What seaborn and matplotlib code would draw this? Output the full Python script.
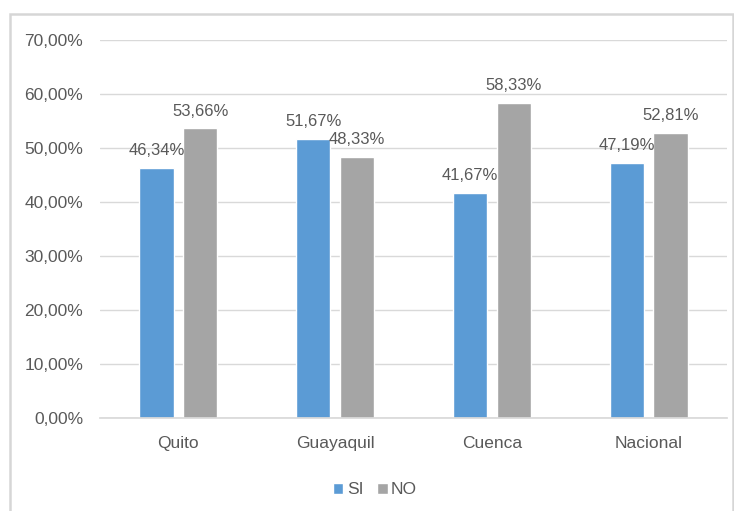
import matplotlib
matplotlib.use("Agg")
import matplotlib.pyplot as plt
from matplotlib.patches import Rectangle
import seaborn as sns
import pandas as pd

ciudades = ["Quito", "Guayaquil", "Cuenca", "Nacional"]
si_vals = [46.34, 51.67, 41.67, 47.19]
no_vals = [53.66, 48.33, 58.33, 52.81]
series = ["SI", "NO"]
colores = ["#5B9BD5", "#A5A5A5"]
y_ticks = [0, 10, 20, 30, 40, 50, 60, 70]

df = pd.DataFrame({
    "ciudad": ciudades * 2,
    "serie": ["SI"] * len(ciudades) + ["NO"] * len(ciudades),
    "valor": si_vals + no_vals,
})

sns.set_theme(style="white")
plt.rcParams["font.family"] = ["Liberation Sans", "DejaVu Sans"]
texto = "#595959"

fig = plt.figure(figsize=(7.34, 5.11), dpi=100)
ax = fig.add_axes([100 / 734, (511 - 418) / 511, 627 / 734, 378 / 511])

sns.barplot(data=df, x="ciudad", y="valor", hue="serie", hue_order=series,
            palette=colores, width=0.56, gap=0.22, ax=ax, legend=True,
            saturation=1, errorbar=None)

# data labels
for cont in ax.containers:
    labels = [f"{v:.2f}%".replace(".", ",") for v in cont.datavalues]
    ax.bar_label(cont, labels=labels, padding=7, color=texto, fontsize=12)

ax.set_ylim(0, 70)
ax.set_xlim(-0.5, 3.5)
ax.set_yticks(y_ticks)
ax.set_yticklabels([f"{t:.2f}%".replace(".", ",") for t in y_ticks])
ax.yaxis.grid(True, color="#D9D9D9", linewidth=1)
ax.set_axisbelow(True)
ax.tick_params(axis="both", length=0, colors=texto, labelsize=12.5)
ax.tick_params(axis="y", pad=12)
ax.tick_params(axis="x", pad=13)
ax.set_xlabel("")
ax.set_ylabel("")
for s in ["top", "right", "left"]:
    ax.spines[s].set_visible(False)
ax.spines["bottom"].set_color("#D9D9D9")

leg = ax.legend(loc="center", bbox_to_anchor=(375 / 734, 1 - 490 / 511),
                bbox_transform=fig.transFigure, ncol=2, frameon=False,
                handlelength=0.6, handleheight=0.6, handletextpad=0.2,
                columnspacing=0.8, fontsize=12.5)
for t in leg.get_texts():
    t.set_color(texto)

# outer chart frame
fig.patches.append(Rectangle((10 / 734, -0.05), 723 / 734, 1 - 14 / 511 + 0.05,
                             transform=fig.transFigure, fill=False,
                             edgecolor="#D6D6D6", linewidth=1.8))

fig.savefig("out.png", dpi=100)
